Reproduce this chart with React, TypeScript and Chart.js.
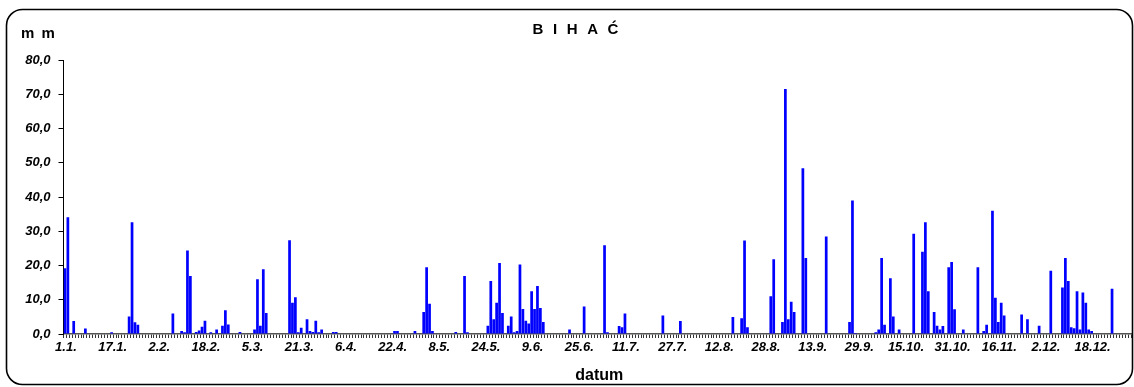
import React, { useEffect, useRef } from 'react';
import { Chart, registerables } from 'chart.js';

Chart.register(...registerables);

// Leap year: 366 daily categories
const monthLengths = [31, 29, 31, 30, 31, 30, 31, 31, 30, 31, 30, 31];

// Labels shown on the x axis (every 16th day)
const tickLabels = [
  '1.1.', '17.1.', '2.2.', '18.2.', '5.3.', '21.3.', '6.4.', '22.4.', '8.5.', '24.5.', '9.6.', '25.6.',
  '11.7.', '27.7.', '12.8.', '28.8.', '13.9.', '29.9.', '15.10.', '31.10.', '16.11.', '2.12.', '18.12.',
];

// Days (0-based index in year) with precipitation, and amounts in mm
const rainDays = [
  0, 1, 3, 7, 16, 22, 23, 24, 25, 37, 40, 41, 42, 43, 45, 46, 47, 48, 50, 52, 54, 55, 56, 60,
  65, 66, 67, 68, 69, 77, 78, 79, 80, 81, 83, 84, 85, 86, 87, 88, 92, 93, 113, 114, 120,
  123, 124, 125, 126, 134, 137, 138, 145, 146, 147, 148, 149, 150, 152, 153, 154, 155, 156,
  157, 158, 159, 160, 161, 162, 163, 164, 173, 178, 185, 186, 190, 191, 192, 205, 211,
  229, 232, 233, 234, 242, 243, 246, 247, 248, 249, 250, 253, 254, 261, 269, 270, 271,
  278, 279, 280, 281, 283, 284, 286, 291, 294, 295, 296, 298, 299, 300, 301, 303, 304, 305,
  308, 313, 315, 316, 318, 319, 320, 321, 322, 328, 330, 334, 338, 342, 343, 344, 345, 346,
  347, 348, 349, 350, 351, 352, 359,
];
const rainValues = [
  19.2, 34.1, 3.8, 1.6, 0.5, 5.1, 32.6, 3.4, 2.7, 6.0, 0.9, 0.5, 24.4, 16.9, 0.6, 1.0, 2.1, 3.9, 0.5, 1.3, 2.4, 6.9, 2.8, 0.6,
  1.3, 16.0, 2.4, 18.9, 6.1, 27.4, 9.1, 10.7, 0.5, 1.8, 4.3, 0.9, 0.6, 3.9, 0.5, 1.3, 0.6, 0.6, 0.9, 0.9, 0.9,
  6.4, 19.5, 8.8, 0.9, 0.6, 16.9, 0.5, 2.4, 15.5, 4.3, 9.1, 20.7, 6.1, 2.4, 5.1, 0.5, 0.9, 20.3,
  7.3, 3.9, 3.1, 12.5, 7.3, 14.0, 7.6, 3.5, 1.3, 8.0, 25.9, 0.5, 2.3, 2.0, 6.0, 5.4, 3.8,
  5.0, 4.6, 27.3, 2.0, 11.0, 21.8, 3.5, 71.5, 4.3, 9.4, 6.4, 48.4, 22.2, 28.5, 3.5, 39.0, 0.3,
  0.5, 1.3, 22.2, 2.7, 16.3, 5.1, 1.3, 29.3, 24.0, 32.6, 12.5, 6.4, 2.4, 1.3, 2.3, 19.5, 21.0, 7.2,
  1.3, 19.5, 0.9, 2.7, 36.0, 10.6, 3.5, 9.1, 5.4, 5.7, 4.3, 2.4, 18.5, 13.6, 22.2, 15.5, 2.0, 1.7,
  12.5, 1.3, 12.1, 9.1, 1.3, 0.9, 13.2,
];

const yMin = 0;
const yMax = 80;
const yStep = 10;

const titleText = 'B I H A Ć';
const yUnitText = 'm m';
const xTitleText = 'datum';

const FONT = '"Liberation Sans", Arial, sans-serif';

function buildDayLabels(): string[] {
  const out: string[] = [];
  monthLengths.forEach((len, m) => {
    for (let d = 1; d <= len; d++) out.push(`${d}.${m + 1}.`);
  });
  return out;
}

function buildSeries(n: number): (number | null)[] {
  const arr: (number | null)[] = new Array(n).fill(null);
  rainDays.forEach((d, i) => {
    arr[d] = rainValues[i];
  });
  return arr;
}

function drawSpaced(ctx: CanvasRenderingContext2D, text: string, cx: number, y: number, spacing: number) {
  const chars = Array.from(text);
  const widths = chars.map((c) => ctx.measureText(c).width);
  const total = widths.reduce((a, b) => a + b, 0) + spacing * (chars.length - 1);
  let x = cx - total / 2;
  ctx.textAlign = 'left';
  chars.forEach((c, i) => {
    ctx.fillText(c, x, y);
    x += widths[i] + spacing;
  });
}

const decorPlugin = {
  id: 'decor',
  afterDraw(chart: any) {
    const { ctx, chartArea } = chart;
    ctx.save();
    // rounded outer border
    ctx.strokeStyle = '#000';
    ctx.lineWidth = 1.6;
    ctx.beginPath();
    (ctx as any).roundRect(6.5, 9.5, 1126, 375, 16);
    ctx.stroke();

    ctx.fillStyle = '#000';
    ctx.textBaseline = 'alphabetic';

    // title with spaced letters
    ctx.font = `bold 15px ${FONT}`;
    drawSpaced(ctx, titleText, 575.5, 34, 2.7);

    // unit label
    ctx.font = `bold 15px ${FONT}`;
    drawSpaced(ctx, yUnitText, 38, 37.5, 1.5);

    // x axis title
    ctx.font = `bold 16px ${FONT}`;
    ctx.textAlign = 'center';
    ctx.fillText(xTitleText, (chartArea.left + chartArea.right) / 2 + 2, 380);
    ctx.restore();
  },
};

export default function App() {
  const canvasRef = useRef<HTMLCanvasElement | null>(null);

  useEffect(() => {
    if (!canvasRef.current) return;
    const labels = buildDayLabels();
    const data = buildSeries(labels.length);
    const chart = new Chart(canvasRef.current, {
      type: 'bar',
      data: {
        labels,
        datasets: [
          {
            data,
            backgroundColor: '#0000ff',
            borderWidth: 0,
            barPercentage: 0.93,
            categoryPercentage: 1,
          },
        ],
      },
      options: {
        animation: false,
        responsive: true,
        maintainAspectRatio: false,
        layout: { padding: { top: 60, right: 3, left: 0, bottom: 0 } },
        plugins: {
          legend: { display: false },
          title: { display: false },
          tooltip: { enabled: false },
        },
        scales: {
          x: {
            type: 'category',
            grid: {
              display: true,
              drawOnChartArea: false,
              drawTicks: true,
              tickLength: 4,
              color: '#333',
              offset: true,
            },
            border: { display: true, color: '#555', width: 1.5 },
            ticks: {
              autoSkip: false,
              maxRotation: 0,
              minRotation: 0,
              padding: 2,
              labelOffset: 1,
              color: '#000',
              font: { family: FONT, size: 13, style: 'italic', weight: 'bold' },
              callback: (_v: any, index: number) => (index % 16 === 0 ? tickLabels[index / 16] ?? '' : ''),
            },
            afterFit: (scale: any) => {
              scale.height = 53;
            },
          },
          y: {
            min: yMin,
            max: yMax,
            grid: {
              display: true,
              drawOnChartArea: false,
              drawTicks: true,
              tickLength: 5,
              color: '#000',
            },
            border: { display: true, color: '#000', width: 1 },
            ticks: {
              stepSize: yStep,
              padding: 8,
              color: '#000',
              font: { family: FONT, size: 13, style: 'italic', weight: 'bold' },
              callback: (v: any) => Number(v).toFixed(1).replace('.', ','),
            },
            afterFit: (scale: any) => {
              scale.width = 63.5;
            },
          },
        },
      },
      plugins: [decorPlugin],
    });
    return () => chart.destroy();
  }, []);

  return (
    <div style={{ position: 'absolute', left: 0, top: 0, width: 1134, height: 387, background: '#fff' }}>
      <canvas ref={canvasRef} />
    </div>
  );
}
